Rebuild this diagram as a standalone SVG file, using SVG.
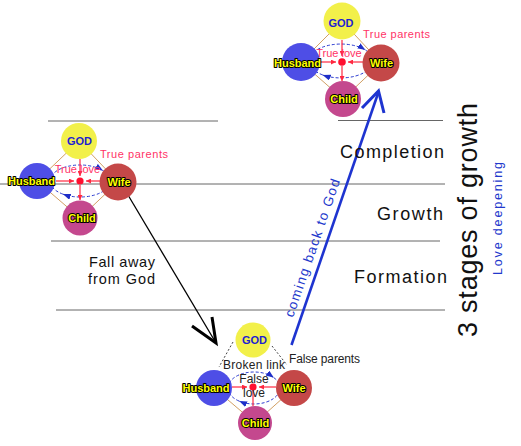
<svg xmlns="http://www.w3.org/2000/svg" width="521" height="446" viewBox="0 0 521 446">
<style>
text{font-family:"Liberation Sans",Arial,sans-serif}
.stage{stroke:#666;stroke-width:1;fill:none}
.tan{stroke:#d2a064;stroke-width:1;fill:none}
.broken{stroke:#444;stroke-width:1;stroke-dasharray:2 2;fill:none}
.red{stroke:#ff2840;stroke-width:1.2;fill:none}
.ell{stroke:#2a3ad0;stroke-width:1;stroke-dasharray:3 2;fill:none}
.god{fill:#f2f04a}
.hus{fill:#4e4ee6}
.wife{fill:#c44848}
.child{fill:#c4488e}
.nt{font-size:11px;font-weight:bold;fill:#ffff00;stroke:#000;stroke-width:2;paint-order:stroke;stroke-linejoin:round;text-anchor:middle}
.gt{font-size:11px;font-weight:bold;fill:#1e1ed2;text-anchor:middle}
.pink{font-size:11px;fill:#ff3366}
.dark{font-size:12px;fill:#222}
.big{font-size:18px;fill:#111}
</style>
<defs>
<marker id="ba" markerUnits="userSpaceOnUse" markerWidth="9" markerHeight="7" refX="8" refY="3" orient="auto">
<path d="M0,0 L8,3 L0,6 z" fill="#1e2ec8"/>
</marker>
<marker id="ra" markerUnits="userSpaceOnUse" markerWidth="6" markerHeight="5" refX="5" refY="2.5" orient="auto">
<path d="M0,0 L5,2.5 L0,5 z" fill="#ff2840"/>
</marker>
</defs>
<rect width="521" height="446" fill="#fff"/>
<g id="stage-lines">
<line class="stage" x1="48" y1="121" x2="218" y2="121"/>
<line class="stage" x1="338" y1="120.5" x2="443" y2="120.5"/>
<line class="stage" x1="0" y1="184" x2="445" y2="184"/>
<line class="stage" x1="51" y1="241" x2="440" y2="241"/>
<line class="stage" x1="56" y1="310" x2="445" y2="310"/>
</g>
<g id="connectors">
<!-- top family -->
<line class="tan" x1="342" y1="21" x2="301" y2="62"/>
<line class="tan" x1="342" y1="21" x2="381" y2="63"/>
<line class="tan" x1="301" y1="62" x2="343" y2="99"/>
<line class="tan" x1="381" y1="63" x2="343" y2="99"/>
<path class="ell" d="M309,61 A32,17 0 0 1 365.5,50.1" marker-end="url(#ba)"/>
<path class="ell" d="M365.5,50.1 A32,17 0 0 1 322.6,74.9" marker-end="url(#ba)"/>
<path class="ell" d="M322.6,74.9 A32,17 0 0 1 309,61"/>
<path class="red" d="M320,62 H336" marker-end="url(#ra)"/>
<path class="red" d="M363,62 H348" marker-end="url(#ra)"/>
<path class="red" d="M342,40 V56" marker-end="url(#ra)"/>
<path class="red" d="M342,66 V81" marker-end="url(#ra)"/>
<circle cx="342" cy="62" r="3.8" fill="#ff1030"/>
<!-- left family -->
<line class="tan" x1="79" y1="141" x2="37" y2="181"/>
<line class="tan" x1="79" y1="141" x2="118" y2="182"/>
<line class="tan" x1="37" y1="181" x2="80" y2="218"/>
<line class="tan" x1="118" y1="182" x2="80" y2="218"/>
<path class="ell" d="M50,181 A30,16 0 0 1 103,170.7" marker-end="url(#ba)"/>
<path class="ell" d="M103,170.7 A30,16 0 0 1 62.8,194.1" marker-end="url(#ba)"/>
<path class="ell" d="M62.8,194.1 A30,16 0 0 1 50,181"/>
<path class="red" d="M56,181 H74" marker-end="url(#ra)"/>
<path class="red" d="M100,181 H86" marker-end="url(#ra)"/>
<path class="red" d="M80,159 V176" marker-end="url(#ra)"/>
<path class="red" d="M80,185 V200" marker-end="url(#ra)"/>
<circle cx="80" cy="181" r="3.6" fill="#ff1030"/>
<!-- bottom family -->
<line class="broken" x1="233" y1="342" x2="219" y2="367"/>
<line class="broken" x1="272" y1="346" x2="287" y2="365"/>
<line class="tan" x1="214" y1="388" x2="255" y2="423"/>
<line class="tan" x1="294" y1="388" x2="255" y2="423"/>
<path class="ell" d="M228,388 A26,16 0 0 1 273.9,377.7" marker-end="url(#ba)"/>
<path class="ell" d="M273.9,377.7 A26,16 0 0 1 239.1,401.1" marker-end="url(#ba)"/>
<path class="ell" d="M239.1,401.1 A26,16 0 0 1 228,388"/>
<path class="red" d="M232,387 H247" marker-end="url(#ra)"/>
<path class="red" d="M276,387 H259" marker-end="url(#ra)"/>
<path class="red" d="M253,390 V406"/>
<circle cx="253" cy="387" r="3.6" fill="#ff1030"/>
<!-- fall away arrow -->
<line x1="128" y1="195" x2="216" y2="343" stroke="#000" stroke-width="1.3"/>
<polyline points="192,326 216,343 212,317" fill="none" stroke="#000" stroke-width="3" stroke-linejoin="miter"/>
<!-- coming back arrow -->
<line x1="291.5" y1="345" x2="378.5" y2="92" stroke="#1e34d0" stroke-width="2.6"/>
<polyline points="362,108 378.5,91 384,113" fill="none" stroke="#1e34d0" stroke-width="3"/>
</g>
<g id="node-god-top"><circle class="god" cx="342" cy="21" r="18.5"/><text class="gt" x="341" y="27">GOD</text></g>
<g id="node-husband-top"><circle class="hus" cx="301" cy="62" r="19"/><text class="nt" x="297.5" y="67">Husband</text></g>
<g id="node-wife-top"><circle class="wife" cx="381" cy="63" r="18.5"/><text class="nt" x="381.5" y="67">Wife</text></g>
<g id="node-child-top"><circle class="child" cx="343" cy="99" r="18"/><text class="nt" x="344" y="103">Child</text></g>
<g id="node-god-left"><circle class="god" cx="79" cy="141" r="18"/><text class="gt" x="79.5" y="145">GOD</text></g>
<g id="node-husband-left"><circle class="hus" cx="37" cy="181" r="18"/><text class="nt" x="31.5" y="185">Husband</text></g>
<g id="node-wife-left"><circle class="wife" cx="118" cy="182" r="18.5"/><text class="nt" x="119" y="186">Wife</text></g>
<g id="node-child-left"><circle class="child" cx="80" cy="218" r="17.5"/><text class="nt" x="82" y="222">Child</text></g>
<g id="node-god-bottom"><circle class="god" cx="253" cy="340" r="17.5"/><text class="gt" x="254.5" y="344">GOD</text></g>
<g id="node-husband-bottom"><circle class="hus" cx="214" cy="388" r="18"/><text class="nt" x="206" y="392">Husband</text></g>
<g id="node-wife-bottom"><circle class="wife" cx="294" cy="388" r="18"/><text class="nt" x="294" y="392">Wife</text></g>
<g id="node-child-bottom"><circle class="child" cx="255" cy="423" r="17"/><text class="nt" x="255.5" y="427">Child</text></g>
<g id="labels">
<text class="pink" x="363" y="38" textLength="67" lengthAdjust="spacing">True parents</text>
<text class="pink" x="339" y="57" text-anchor="middle">True love</text>
<text class="pink" x="100" y="158" textLength="68" lengthAdjust="spacing">True parents</text>
<text class="pink" x="77.5" y="173" text-anchor="middle">True love</text>
<text class="dark" x="223" y="369" font-size="12.5" textLength="62" lengthAdjust="spacing">Broken link</text>
<text class="dark" x="254" y="383" font-size="11.5" text-anchor="middle">False</text>
<text class="dark" x="254" y="397" font-size="11.5" text-anchor="middle">love</text>
<text class="dark" x="289" y="363" textLength="71" lengthAdjust="spacing">False parents</text>
<text class="big" x="340" y="158" textLength="104" lengthAdjust="spacing">Completion</text>
<text class="big" x="377" y="220" textLength="66" lengthAdjust="spacing">Growth</text>
<text class="big" x="354" y="283" textLength="93" lengthAdjust="spacing">Formation</text>
<text x="89" y="267" font-size="14.5" fill="#111" textLength="66" lengthAdjust="spacing">Fall away</text>
<text x="88" y="284" font-size="14.5" fill="#111" textLength="67" lengthAdjust="spacing">from God</text>
<text transform="translate(293,318) rotate(-71)" font-size="13.5" fill="#2238cc" textLength="145" lengthAdjust="spacing">coming back to God</text>
<text transform="translate(477,337) rotate(-90)" font-size="27" fill="#111" textLength="234" lengthAdjust="spacing">3 stages of growth</text>
<text transform="translate(502,275) rotate(-90)" font-size="12.5" fill="#2238cc" textLength="113" lengthAdjust="spacing">Love deepening</text>
</g>
</svg>
